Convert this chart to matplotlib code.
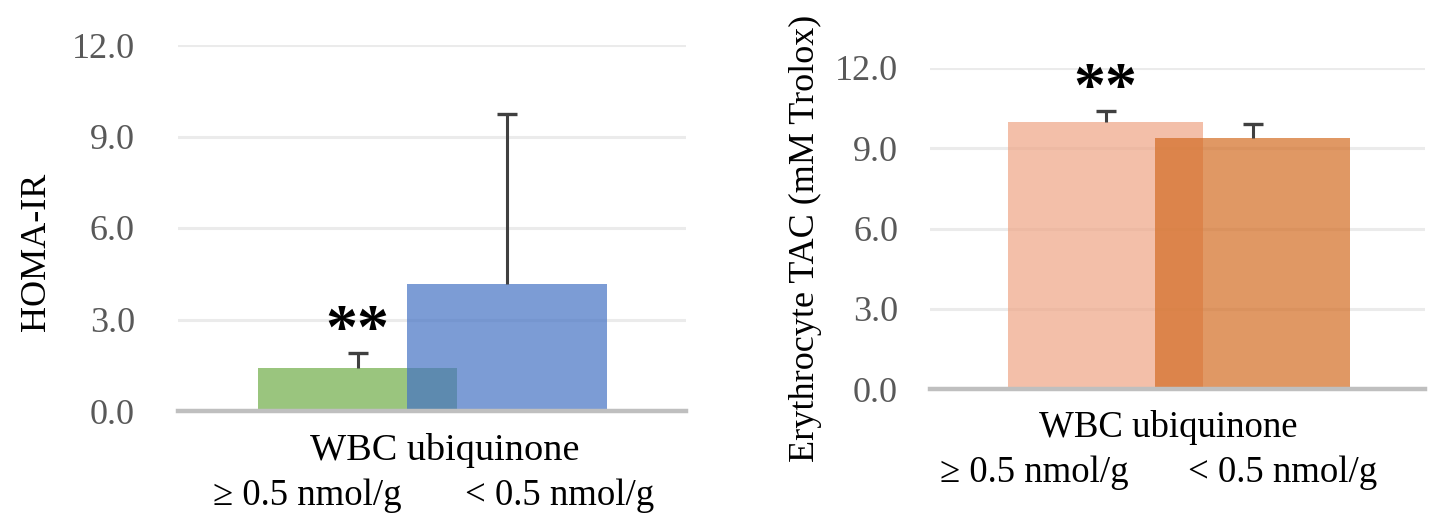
import matplotlib
matplotlib.use("Agg")
import matplotlib.pyplot as plt

plt.rcParams['font.family'] = ['Liberation Serif', 'DejaVu Serif']

# ---- data ----
groups = ["\u2265 0.5 nmol/g", "< 0.5 nmol/g"]
xlabel_main = "WBC ubiquinone"
homa_mean = [1.40, 4.18]
homa_err = [0.50, 5.55]
tac_mean = [9.98, 9.38]
tac_err = [0.42, 0.52]
yticks = [0.0, 3.0, 6.0, 9.0, 12.0]
ytick_labels = ["0.0", "3.0", "6.0", "9.0", "12.0"]
sig = ["**", "**"]

W, H = 1456, 513
fig = plt.figure(figsize=(W / 100, H / 100), dpi=100)

def px_axes(x0, x1, ytop, ybot):
    return [x0 / W, 1 - ybot / H, (x1 - x0) / W, (ybot - ytop) / H]

ax1 = fig.add_axes(px_axes(178, 686, 45, 411))
ax2 = fig.add_axes(px_axes(930, 1425, 68, 389))

def style(ax, xlim, pad):
    ax.set_xlim(*xlim)
    ax.set_ylim(0, 12)
    ax.set_yticks(yticks)
    ax.set_yticklabels(ytick_labels)
    ax.set_xticks([])
    for s in ["top", "right", "left"]:
        ax.spines[s].set_visible(False)
    ax.spines["bottom"].set_color("#bfbfbf")
    ax.spines["bottom"].set_linewidth(3.2)
    ax.spines["bottom"].set_zorder(5)
    ax.tick_params(axis="y", length=0, pad=pad, labelsize=26, labelcolor="#595959")
    ax.yaxis.grid(True, color="#ebebeb", linewidth=2.2)
    ax.set_axisbelow(True)

def upper_err(ax, xs, means, errs):
    _, caps, _ = ax.errorbar(xs, means, yerr=[[0] * len(errs), errs], fmt="none",
                             ecolor="#404040", elinewidth=2.2, capsize=7.5,
                             capthick=2.4, zorder=4)
    caps[0].set_visible(False)

xs = [0, 1]

style(ax1, (-1.201, 2.197), 31)
ax1.bar(xs[0], homa_mean[0], width=1.335, color="#70AD47", alpha=0.7, zorder=2)
ax1.bar(xs[1], homa_mean[1], width=1.335, color="#4472C4", alpha=0.7, zorder=3)
upper_err(ax1, xs, homa_mean, homa_err)
ax1.text(xs[0], 2.56, sig[0], ha="center", va="center", fontsize=46,
         fontweight="bold", color="black")
ax1.set_ylabel("HOMA-IR", fontsize=26, color="black")
ax1.yaxis.set_label_coords((53 - 178) / 508, (411 - 252) / 366)
ax1.text(0.526, -0.134, xlabel_main, transform=ax1.transAxes, ha="center", va="baseline", fontsize=27.5)
ax1.text(0.254, -0.257, groups[0], transform=ax1.transAxes, ha="center", va="baseline", fontsize=26.5)
ax1.text(0.752, -0.257, groups[1], transform=ax1.transAxes, ha="center", va="baseline", fontsize=26.5)

style(ax2, (-1.194, 2.173), 23)
ax2.bar(xs[0], tac_mean[0], width=1.327, color="#eea585", alpha=0.7, zorder=2)
ax2.bar(xs[1], tac_mean[1], width=1.327, color="#d36c23", alpha=0.7, zorder=3)
upper_err(ax2, xs, tac_mean, tac_err)
ax2.text(xs[0], 11.14, sig[1], ha="center", va="center", fontsize=46,
         fontweight="bold", color="black")
ax2.set_ylabel("Erythrocyte TAC (mM Trolox)", fontsize=26, color="black")
ax2.yaxis.set_label_coords((822 - 930) / 495, (389 - 238) / 321)
ax2.text(0.481, -0.150, xlabel_main, transform=ax2.transAxes, ha="center", va="baseline", fontsize=26.5)
ax2.text(0.210, -0.290, groups[0], transform=ax2.transAxes, ha="center", va="baseline", fontsize=26.5)
ax2.text(0.713, -0.290, groups[1], transform=ax2.transAxes, ha="center", va="baseline", fontsize=26.5)

fig.savefig("out.png", dpi=100)
